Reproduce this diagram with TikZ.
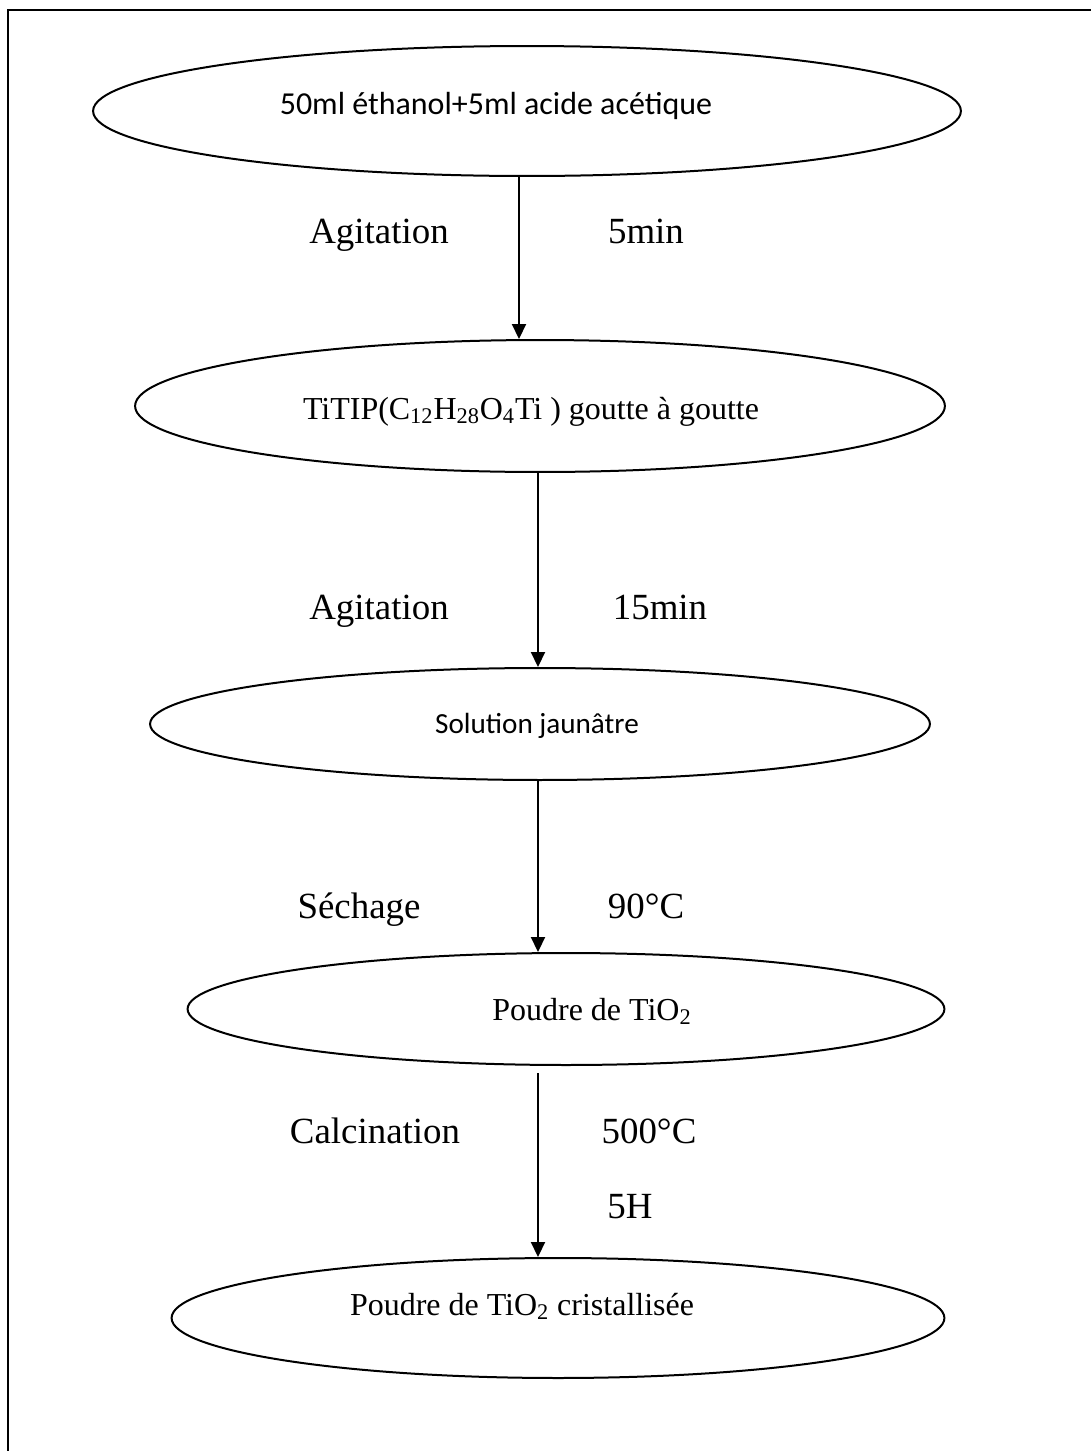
\documentclass[tikz,border=0pt]{standalone}
\usepackage{fontspec}
\setmainfont{Liberation Serif}
\newfontfamily\calibri{Carlito}
\usetikzlibrary{shapes.geometric,arrows.meta}

\begin{document}
\begin{tikzpicture}[
    x=0.02cm, y=-0.02cm,
    stage/.style={draw, ellipse, line width=0.04cm, inner sep=0pt},
    flow/.style={line width=0.04cm, -{Triangle[length=0.3cm,width=0.28cm]}},
    note/.style={anchor=base, font=\fontsize{21}{25}\selectfont},
    inside/.style={anchor=base, font=\fontsize{18.2}{22}\selectfont}
]
\useasboundingbox (0,0) rectangle (1091,1451);
\draw[line width=0.04cm] (8,1451) -- (8,10) -- (1091,10);

\node[stage, minimum width=17.36cm, minimum height=2.6cm] (solvent) at (527,111) {};
\node[stage, minimum width=16.2cm, minimum height=2.64cm] (precursor) at (540,406) {};
\node[stage, minimum width=15.6cm, minimum height=2.24cm] (solution) at (540,724) {};
\node[stage, minimum width=15.14cm, minimum height=2.24cm] (powder) at (566,1009) {};
\node[stage, minimum width=15.46cm, minimum height=2.4cm] (crystal) at (558,1318) {};

\node[anchor=base, font=\calibri\fontsize{18.2}{22}\selectfont] (solvent text) at (496,114) {50ml éthanol+5ml acide acétique};
\node[inside] (precursor text) at (531,419) {TiTIP(C\textsubscript{12}H\textsubscript{28}O\textsubscript{4}Ti ) goutte à goutte};
\node[anchor=base, font=\calibri\fontsize{16.6}{20}\selectfont] (solution text) at (537,733) {Solution jaunâtre};
\node[inside] (powder text) at (592,1020) {Poudre de TiO\textsubscript{2}};
\node[inside] (crystal text) at (522,1315) {Poudre de TiO\textsubscript{2} cristallisée};

\coordinate (first axis) at (519,0);
\coordinate (axis) at (538,0);
\draw[flow] (solvent.south -| first axis) -- (precursor.north -| first axis);
\draw[flow] (precursor.south -| axis) -- (solution.north -| axis);
\draw[flow] (solution.south -| axis) -- (powder.north -| axis);
\draw[flow, shorten <=0.14cm] (powder.south -| axis) -- (crystal.north -| axis);

\node[note] (stir1) at (379,243) {Agitation};
\node[note] (time1) at (646,243) {5min};
\node[note] (stir2) at (379,619) {Agitation};
\node[note] (time2) at (660,619) {15min};
\node[note] (dry) at (359,918) {Séchage};
\node[note] (dry temp) at (646,918) {90°C};
\node[note] (calc) at (375,1143) {Calcination};
\node[note] (calc temp) at (649,1143) {500°C};
\node[note] (calc time) at (630,1218) {5H};
\end{tikzpicture}
\end{document}
